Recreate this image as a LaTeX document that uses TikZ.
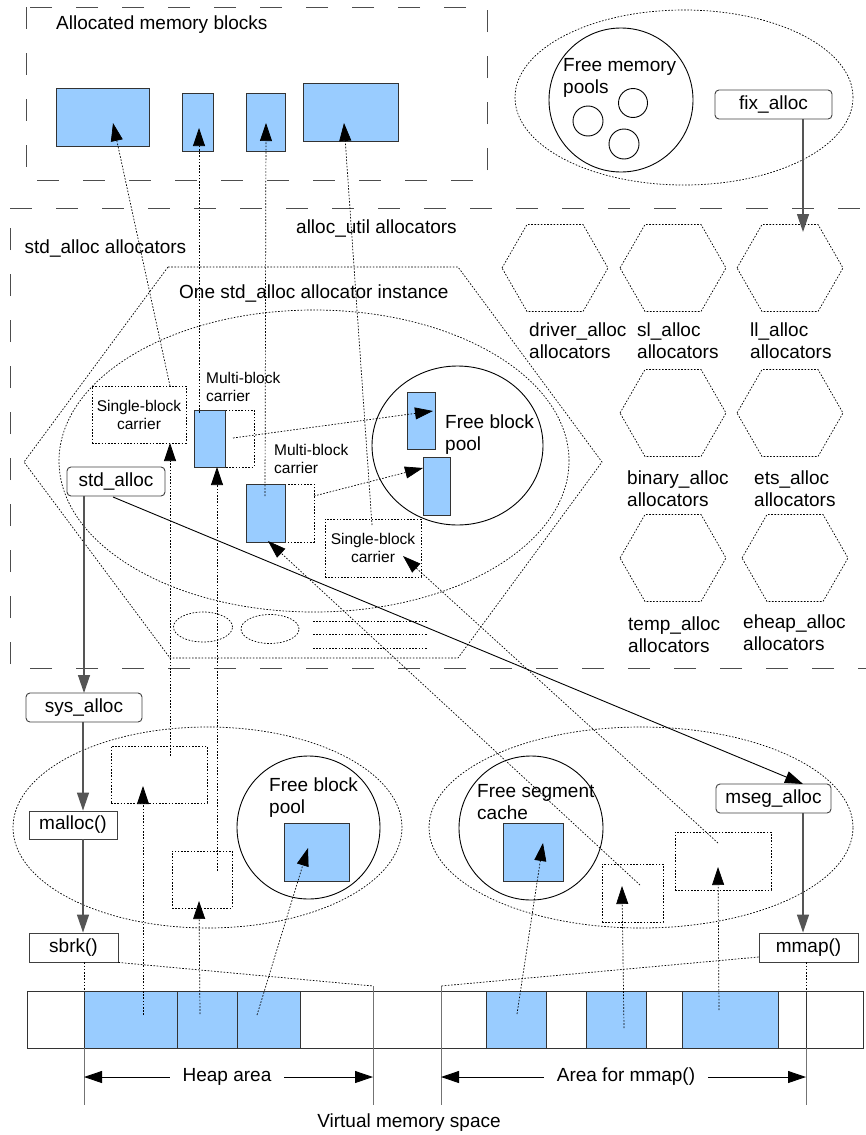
\documentclass[tikz,border=0pt]{standalone}
\usepackage{fontspec}
\setmainfont{Liberation Sans}
\usetikzlibrary{arrows.meta,shapes.geometric}
\definecolor{blockblue}{HTML}{99CCFF}
\definecolor{framegray}{HTML}{4D4D4D}
\definecolor{wiregray}{HTML}{555555}
\newcommand\lblfont{\fontsize{19}{22}\selectfont}
\newcommand\smlfont{\fontsize{15.5}{18}\selectfont}
\tikzset{
  frame/.style={draw=framegray, line width=1pt, dash pattern=on 22pt off 24pt},
  dotline/.style={draw=black, line width=0.7pt, dash pattern=on 1.6pt off 1.6pt},
  blk/.style={rectangle, draw=black!80, fill=blockblue, line width=0.9pt, inner sep=0pt},
  dotbox/.style={rectangle, dotline, inner sep=0pt},
  headtip/.style={-{Triangle[length=18pt,width=12pt]}},
  dotarrow/.style={dotline, headtip},
  wire/.style={draw=wiregray, line width=1.3pt, headtip},
  lab/.style={font=\lblfont, inner sep=0pt, align=left, anchor=west},
  smalllab/.style={font=\smlfont, inner sep=0pt, align=left, anchor=west},
  roundbox/.style={rectangle, draw=black!75, line width=0.9pt, rounded corners=4pt, inner sep=0pt, minimum height=29pt, font=\lblfont},
  flatbox/.style={rectangle, draw=black!75, line width=0.9pt, inner sep=0pt, minimum height=29pt, font=\lblfont},
  ring/.style={circle, draw=black, line width=0.9pt, inner sep=0pt},
  dotoval/.style={ellipse, dotline, inner sep=0pt},
  hexa/.pic={\draw[dotline] (-53,0) -- (-28,-43.5) -- (28,-43.5) -- (53,0) -- (28,43.5) -- (-28,43.5) -- cycle;},
}
\begin{document}
\begin{tikzpicture}[x=1pt, y=-1pt]
\useasboundingbox (0,0) rectangle (865,1135);

% ---------------- allocated memory blocks ----------------
\draw[frame] (26,7) rectangle (487,180);
\node[lab] (allocT) at (56,25) {Allocated memory blocks};
\node[blk, minimum width=93, minimum height=58] (ab1) at (102.5,117) {};
\node[blk, minimum width=31, minimum height=58] (ab2) at (197.5,122) {};
\node[blk, minimum width=39, minimum height=58] (ab3) at (265.5,122) {};
\node[blk, minimum width=95, minimum height=58] (ab4) at (350.5,112) {};

% ---------------- fix_alloc and free memory pools ----------------
\node[dotoval, minimum width=338, minimum height=175] (fixarea) at (684,97.5) {};
\node[ring, minimum size=144] (fmp) at (621,100) {};
\node[lab] (fmpT) at (563,78) {Free memory\\pools};
\node[ring, minimum size=29] (p1) at (633,103) {};
\node[ring, minimum size=30] (p2) at (588,121) {};
\node[ring, minimum size=30] (p3) at (624,144) {};
\node[roundbox, minimum width=117] (fix) at (773.5,104.5) {fix\_alloc};

% ---------------- allocators frame ----------------
\draw[frame] (10,208) -- (880,208) (880,668) -- (10,668) -- (10,208);
\node[lab] (stdT) at (24.5,249) {std\_alloc allocators};
\node[lab] (utilT) at (296,229) {alloc\_util allocators};

% alloc_util allocator kinds
\pic at (555,268) {hexa};
\pic at (673,268) {hexa};
\pic at (790,268) {hexa};
\pic at (673,413) {hexa};
\pic at (790,413) {hexa};
\pic at (673,558) {hexa};
\pic at (795,558) {hexa};
\node[lab] (drvT) at (529,340.5) {driver\_alloc\\allocators};
\node[lab] (slT) at (637,340.5) {sl\_alloc\\allocators};
\node[lab] (llT) at (750,340.5) {ll\_alloc\\allocators};
\node[lab] (binT) at (627,489) {binary\_alloc\\allocators};
\node[lab] (etsT) at (754,489) {ets\_alloc\\allocators};
\node[lab] (tmpT) at (628,634.5) {temp\_alloc\\allocators};
\node[lab] (ehT) at (743,633) {eheap\_alloc\\allocators};

% one std_alloc instance
\draw[dotline] (168,267) -- (458,267) -- (602,462) -- (458,658) -- (170,658) -- (24,462) -- cycle;
\node[lab] (instT) at (179,294) {One std\_alloc allocator instance};
\node[dotoval, minimum width=510, minimum height=302] (inst) at (314,461) {};
\node[dotoval, minimum width=59, minimum height=30] (o1) at (203,627) {};
\node[dotoval, minimum width=58, minimum height=29] (o2) at (270,629) {};
\draw[dotline] (313,621) -- (427,621) (313,634) -- (427,634) (313,648) -- (427,648);

\node[dotbox, minimum width=94, minimum height=57, font=\smlfont, align=center] (sbc1) at (139,414.5) {Single-block\\carrier};
\node[dotbox, minimum width=60, minimum height=57] (mbc1) at (224,438.5) {};
\node[blk, minimum width=31, minimum height=57] (mb1) at (209.5,438.5) {};
\node[smalllab] (mbc1T) at (206,387) {Multi-block\\carrier};
\node[dotbox, minimum width=68, minimum height=58] (mbc2) at (280,513) {};
\node[blk, minimum width=39, minimum height=58] (mb2) at (265.5,513) {};
\node[smalllab] (mbc2T) at (274,459) {Multi-block\\carrier};
\node[dotbox, minimum width=96, minimum height=58, font=\smlfont, align=center] (sbc2) at (373,548) {Single-block\\carrier};

\node[ellipse, draw=black, line width=0.9pt, inner sep=0pt, minimum width=171, minimum height=159] (fbp) at (457.5,445.5) {};
\node[blk, minimum width=28, minimum height=57] (fb1) at (421,420.5) {};
\node[blk, minimum width=27, minimum height=58] (fb2) at (436.5,486) {};
\node[lab] (fbpT) at (445,435) {Free block\\pool};

\node[roundbox, minimum width=98] (std) at (116,481.5) {std\_alloc};

% ---------------- sys_alloc / heap side ----------------
\node[roundbox, minimum width=116] (sys) at (84,707.5) {sys\_alloc};
\node[flatbox, minimum width=88, minimum height=28] (malloc) at (73,825) {malloc()};
\node[flatbox, minimum width=89] (sbrk) at (73.5,947.5) {sbrk()};

\node[dotoval, minimum width=389, minimum height=201] (heapcar) at (207.5,827.5) {};
\node[dotbox, minimum width=96, minimum height=57] (hc1) at (159,774.5) {};
\node[dotbox, minimum width=60, minimum height=57] (hc2) at (202,879.5) {};
\node[ring, minimum size=143] (hfp) at (308.5,827.5) {};
\node[blk, minimum width=65, minimum height=58] (hfb) at (316.5,852) {};
\node[lab] (hfpT) at (269,798) {Free block\\pool};

% ---------------- mseg_alloc / mmap side ----------------
\node[dotoval, minimum width=424, minimum height=201] (mmcar) at (641,827.5) {};
\node[ring, minimum size=144] (fsc) at (531,828) {};
\node[blk, minimum width=60, minimum height=58] (fsb) at (533,852) {};
\node[lab] (fscT) at (477,802) {Free segment\\cache};
\node[dotbox, minimum width=61, minimum height=58] (mc1) at (632.5,893) {};
\node[dotbox, minimum width=96, minimum height=58] (mc2) at (723,861) {};
\node[roundbox, minimum width=115] (mseg) at (773.5,798.5) {mseg\_alloc};
\node[flatbox, minimum width=99] (mmap) at (808.5,947.5) {mmap()};

% ---------------- virtual memory bar ----------------
\node[rectangle, draw=black!80, line width=0.9pt, minimum width=836, minimum height=57, inner sep=0pt] (bar) at (445,1019.5) {};
\node[blk, minimum width=93, minimum height=57] (bh1) at (130.5,1019.5) {};
\node[blk, minimum width=60, minimum height=57] (bh2) at (207,1019.5) {};
\node[blk, minimum width=63, minimum height=57] (bh3) at (268.5,1019.5) {};
\node[blk, minimum width=60, minimum height=57] (bm1) at (516,1019.5) {};
\node[blk, minimum width=60, minimum height=57] (bm2) at (616,1019.5) {};
\node[blk, minimum width=96, minimum height=57] (bm3) at (730,1019.5) {};
\draw[black!80, line width=0.9pt] (373,991) -- (373,1048) (441,991) -- (441,1048) (806,991) -- (806,1048);
\draw[black!55, line width=0.8pt] (84,1048) -- (84,1105) (373,986) -- (373,1105) (441,986) -- (441,1105) (806,1048) -- (806,1105);

\coordinate (heapL) at (84,1077);
\coordinate (heapR) at (373,1077);
\coordinate (mmL) at (441,1077);
\coordinate (mmR) at (806,1077);
\draw[{Triangle[length=18pt,width=12pt]}-{Triangle[length=18pt,width=12pt]}, line width=0.9pt] (heapL) -- (heapR);
\draw[{Triangle[length=18pt,width=12pt]}-{Triangle[length=18pt,width=12pt]}, line width=0.9pt] (mmL) -- (mmR);
\node[font=\lblfont, fill=white, inner xsep=13pt, inner ysep=2pt] (heapT) at (227,1077) {Heap area};
\node[font=\lblfont, fill=white, inner xsep=13pt, inner ysep=2pt] (mmT) at (626,1077) {Area for mmap()};
\node[font=\lblfont, inner sep=0pt] (vmT) at (409,1123) {Virtual memory space};

% ---------------- solid connectors ----------------
\coordinate (stdDown) at (84,496);
\coordinate (sysTop) at (84,693);
\draw[wire] (stdDown) -- (sysTop);
\draw[wire] (sys.south -| 83,0) -- (malloc.north -| 83,0);
\coordinate (colA) at (83,0);
\draw[wire] (malloc.south -| colA) -- (sbrk.north -| colA);
\coordinate (colB) at (803,0);
\draw[wire] (mseg.south -| colB) -- (mmap.north -| colB);
\coordinate (llTop) at (803,232);
\draw[wire] (fix.south -| colB) -- (llTop);
\coordinate (stdOut) at (113,497);
\coordinate (msegIn) at (803,784);
\draw[black, line width=0.9pt, headtip] (stdOut) -- (msegIn);

% ---------------- dotted connectors ----------------
\coordinate (sbc1Top) at (170,386);  \coordinate (ab1In) at (113,123);
\coordinate (mb1In) at (199,413);    \coordinate (ab2In) at (199,128);
\coordinate (mb2In) at (265,496);    \coordinate (ab3In) at (266,123);
\coordinate (sbc2In) at (372,525);   \coordinate (ab4In) at (344,123);
\draw[dotarrow] (sbc1Top) -- (ab1In);
\draw[dotarrow] (mb1In) -- (ab2In);
\draw[dotarrow] (mb2In) -- (ab3In);
\draw[dotarrow] (sbc2In) -- (ab4In);

\coordinate (mbc1Free) at (233,438); \coordinate (fb1In) at (433,411);
\coordinate (mbc2Free) at (314,496); \coordinate (fb2In) at (423,468);
\draw[dotarrow] (mbc1Free) -- (fb1In);
\draw[dotarrow] (mbc2Free) -- (fb2In);

\coordinate (hc1In) at (170,756);   \coordinate (sbc1Bot) at (170,443);
\coordinate (hc2In) at (217,871);   \coordinate (mb1Bot) at (217,467);
\coordinate (mc1In) at (640,885);   \coordinate (mb2Bot) at (268,541);
\coordinate (mc2In) at (718,843);   \coordinate (sbc2Bot) at (403,556);
\draw[dotarrow] (hc1In) -- (sbc1Bot);
\draw[dotarrow] (hc2In) -- (mb1Bot);
\draw[dotarrow] (mc1In) -- (mb2Bot);
\draw[dotarrow] (mc2In) -- (sbc2Bot);

\coordinate (bh1In) at (143,1015);  \coordinate (hc1Bot) at (143,786);
\coordinate (bh2In) at (200,1014);  \coordinate (hc2Bot) at (199,901);
\coordinate (bh3In) at (257,1015);  \coordinate (hfbIn) at (308,848);
\coordinate (bm1In) at (517,1014);  \coordinate (fsbIn) at (543,843);
\coordinate (bm2In) at (624,1028);  \coordinate (mc1Bot) at (622,886);
\coordinate (bm3In) at (719,1010);  \coordinate (mc2Bot) at (718,867);
\draw[dotarrow] (bh1In) -- (hc1Bot);
\draw[dotarrow] (bh2In) -- (hc2Bot);
\draw[dotarrow] (bh3In) -- (hfbIn);
\draw[dotarrow] (bm1In) -- (fsbIn);
\draw[dotarrow] (bm2In) -- (mc1Bot);
\draw[dotarrow] (bm3In) -- (mc2Bot);

% extent guides from sbrk() and mmap() to the bar
\coordinate (heapEnd) at (373,986);
\coordinate (mmStart) at (441,986);
\coordinate (sbrkFoot) at (84,991);
\coordinate (mmapFoot) at (806,991);
\draw[dotline] (sbrk.south east) -- (heapEnd);
\draw[dotline] (mmap.west |- 0,957) -- (mmStart);
\draw[dotline] (sbrk.south -| sbrkFoot) -- (sbrkFoot);
\draw[dotline] (mmap.south -| mmapFoot) -- (mmapFoot);
\end{tikzpicture}
\end{document}
